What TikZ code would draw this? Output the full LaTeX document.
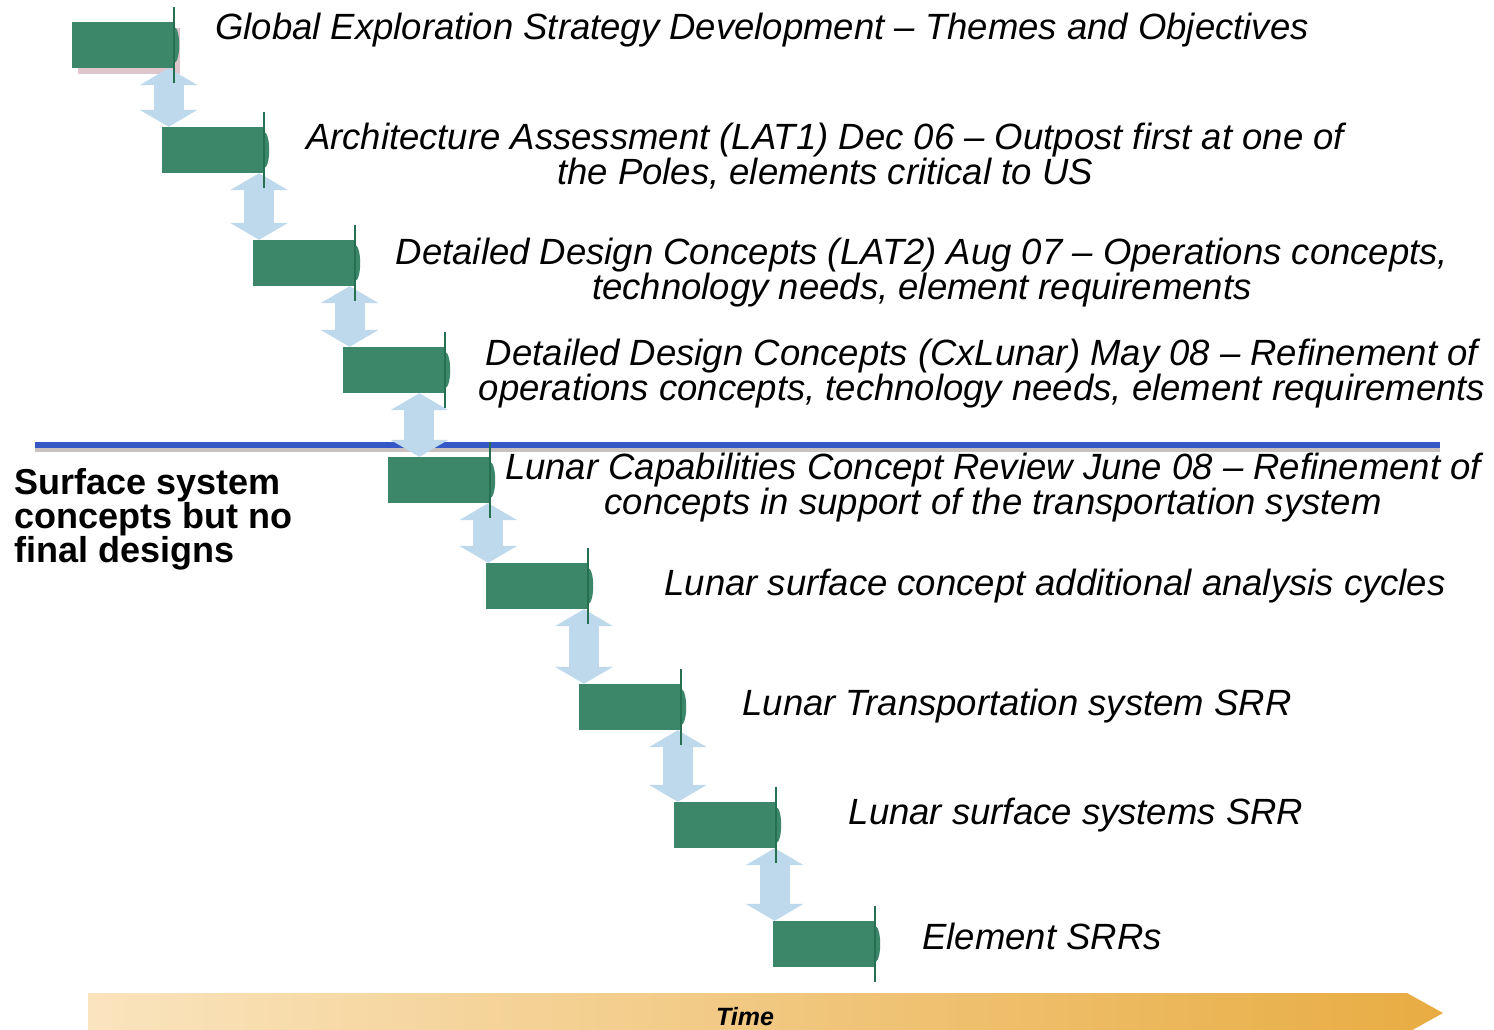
\documentclass[tikz,border=0pt]{standalone}
\usepackage{fontspec}
\setmainfont{Liberation Sans}
\usetikzlibrary{arrows.meta,calc,positioning,backgrounds}
\definecolor{BoxClr}{RGB}{60,134,106}
\definecolor{EdgeClr}{RGB}{38,112,82}
\definecolor{LinkClr}{RGB}{190,217,236}
\definecolor{LineClr}{RGB}{52,88,200}
\definecolor{ShadowClr}{RGB}{165,150,150}
\definecolor{PinkShadow}{RGB}{200,160,170}
\definecolor{TimeLeft}{RGB}{250,228,190}
\definecolor{TimeRight}{RGB}{232,172,66}

\begin{document}
\begin{tikzpicture}[x=1pt,y=-1pt,
  stepbox/.style={fill=BoxClr,minimum width=102pt,minimum height=46pt,inner sep=0pt},
  note/.style={font=\fontsize{36.5}{35}\selectfont\itshape,align=center,inner sep=0pt},
  link/.style={line width=30pt,color=LinkClr,
    {Triangle[width=58pt,length=17pt,line width=0pt]}-{Triangle[width=58pt,length=17pt,line width=0pt]}}]
\useasboundingbox (0,0) rectangle (1494,1029);
\clip (0,0) rectangle (1494,1029);

% Time axis along the bottom.
\shade[left color=TimeLeft,right color=TimeRight]
  (88,993) -- (1407,993) -- (1443,1013) -- (1407,1033) -- (88,1033) -- cycle;
\node[font=\fontsize{25}{25}\selectfont\bfseries\itshape] (time) at (745,1017) {Time};

% The steps, one box per review.
\node[stepbox] (b1) at (123,45) {};
\node[stepbox] (b2) at (213,150) {};
\node[stepbox] (b3) at (304,263) {};
\node[stepbox] (b4) at (394,370) {};
\node[stepbox] (b5) at (439,480) {};
\node[stepbox] (b6) at (537,586) {};
\node[stepbox] (b7) at (630,707) {};
\node[stepbox] (b8) at (725,825) {};
\node[stepbox] (b9) at (824,944) {};

\begin{pgfonlayer}{background}
\fill[white] (0,0) rectangle (1494,1029);
% Line between the lunar and the surface stages.
\fill[ShadowClr,opacity=.6] (35,447) rectangle (1440,452);
\fill[LineClr] (35,442) rectangle (1440,448);
\fill[PinkShadow,opacity=.6] ([shift={(6pt,-6pt)}]b1.south west) rectangle ([shift={(6pt,-6pt)}]b1.north east);
% Arrows from step to step.
\foreach \a/\b in {1/2,2/3,3/4,4/5,5/6,6/7,7/8,8/9}{
  \coordinate (m\a) at ($(b\a.east)!.45!(b\b.west)$);
  \draw[link] (m\a |- b\a.south) -- (m\a |- b\b.north);
}
\end{pgfonlayer}

% Front edge of each box.
\foreach \n in {1,...,9}{
  \fill[BoxClr] (b\n.east) ellipse [x radius=5pt,y radius=18pt];
  \draw[EdgeClr,line width=2pt] ([yshift=15pt]b\n.north east) -- ([yshift=-15pt]b\n.south east);
}

% Texts of the steps.
\node[note] (t1) at (762,30) {Global Exploration Strategy Development -- Themes and Objectives};
\node[note] (t2) at (825,156) {Architecture Assessment (LAT1) Dec 06 -- Outpost first at one of\\the Poles, elements critical to US};
\node[note] (t3) at (922,273) {Detailed Design Concepts (LAT2) Aug 07 -- Operations concepts,\\technology needs, element requirements};
\node[note] (t4) at (982,374) {Detailed Design Concepts (CxLunar) May 08 -- Refinement of\\operations concepts, technology needs, element requirements};
\node[note] (t5) at (993,488) {Lunar Capabilities Concept Review June 08 -- Refinement of\\concepts in support of the transportation system};
\node[note] (t6) at (1055,586) {Lunar surface concept additional analysis cycles};
\node[note] (t7) at (1017,706) {Lunar Transportation system SRR};
\node[note] (t8) at (1076,815) {Lunar surface systems SRR};
\node[note] (t9) at (1042,936) {Element SRRs};

% Note on the left.
\node[font=\fontsize{36}{34}\selectfont\bfseries,align=left,anchor=north west,inner sep=0pt]
  (side) at (14,468) {Surface system\\concepts but no\\final designs};

\end{tikzpicture}
\end{document}
